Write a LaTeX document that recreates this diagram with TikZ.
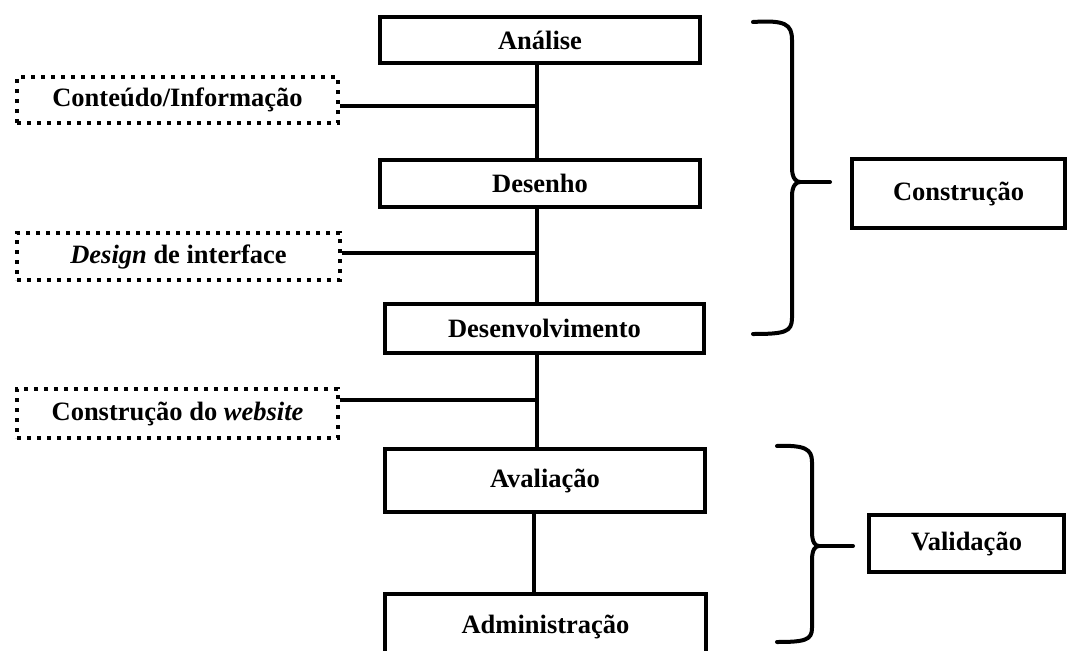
\documentclass[tikz,border=0pt]{standalone}
\usepackage{fontspec}
\setmainfont{Liberation Serif}
\begin{document}
\begin{tikzpicture}[x=1pt,y=-1pt,
  txt/.style={font=\bfseries\fontsize{26.5}{30}\selectfont, inner sep=0pt, align=center},
  mainbox/.style={txt, draw, line width=4pt, rectangle},
  dotbox/.style={txt, draw, line width=4pt, dash pattern=on 4pt off 6pt, rectangle},
  conn/.style={line width=4pt},
  bracepath/.style={line width=4pt, line cap=round}]
\useasboundingbox (0,0) rectangle (1075,650);
\clip (0,0) rectangle (1075,650);

% main column
\node[mainbox, minimum width=320pt, minimum height=46pt] (analise) at (540,40) {\raisebox{-3pt}{Análise}};
\node[mainbox, minimum width=320pt, minimum height=47pt] (desenho) at (540,183.5) {Desenho};
\node[mainbox, minimum width=319pt, minimum height=49pt] (desenv) at (544.5,328.5) {Desenvolvimento};
\node[mainbox, minimum width=320pt, minimum height=63pt] (aval) at (545,480.5) {\raisebox{5pt}{Avaliação}};
\node[mainbox, minimum width=321pt, minimum height=66pt] (admin) at (545.5,627) {\raisebox{6pt}{Administração}};

% dotted boxes
\node[dotbox, minimum width=321pt, minimum height=46pt] (cont) at (177.5,100) {Conteúdo/Informação};
\node[dotbox, minimum width=323pt, minimum height=47pt] (design) at (178.5,256.5) {\textit{Design} de interface};
\node[dotbox, minimum width=321pt, minimum height=49pt] (website) at (177.5,413.5) {Construção do \textit{website}};

% right boxes
\node[mainbox, minimum width=213pt, minimum height=69pt] (constr) at (958.5,193.5) {\raisebox{3pt}{Construção}};
\node[mainbox, minimum width=195pt, minimum height=57pt] (valid) at (966.5,543.5) {Validação};

% helper coordinates
\coordinate (vx) at (537,0);
\coordinate (vx2) at (534,0);
\coordinate (j1) at (537,106);
\coordinate (j2) at (537,253);
\coordinate (j3) at (537,400);

% vertical connectors
\draw[conn] (analise.south -| vx) -- (desenho.north -| vx);
\draw[conn] (desenho.south -| vx) -- (desenv.north -| vx);
\draw[conn] (desenv.south -| vx) -- (aval.north -| vx);
\draw[conn] (aval.south -| vx2) -- (admin.north -| vx2);

% horizontal connectors
\draw[conn] (cont.east |- j1) -- (j1);
\draw[conn] (design.east |- j2) -- (j2);
\draw[conn] (website.east |- j3) -- (j3);

% brace Construcao
\draw[bracepath] (753,22) .. controls (785,20) and (792,24) .. (792,40) -- (792,168)
  .. controls (792,178) and (796,182) .. (800,182)
  .. controls (796,182) and (792,186) .. (792,196) -- (792,318)
  .. controls (792,332) and (785,334) .. (753,334);
\draw[bracepath] (798,182) -- (830,182);

% brace Validacao
\draw[bracepath] (777,446) .. controls (805,445) and (812,449) .. (812,462) -- (812,532)
  .. controls (812,542) and (815,546) .. (819,546)
  .. controls (815,546) and (812,550) .. (812,560) -- (812,628)
  .. controls (812,640) and (805,642) .. (777,642);
\draw[bracepath] (817,546) -- (853,546);
\end{tikzpicture}
\end{document}
